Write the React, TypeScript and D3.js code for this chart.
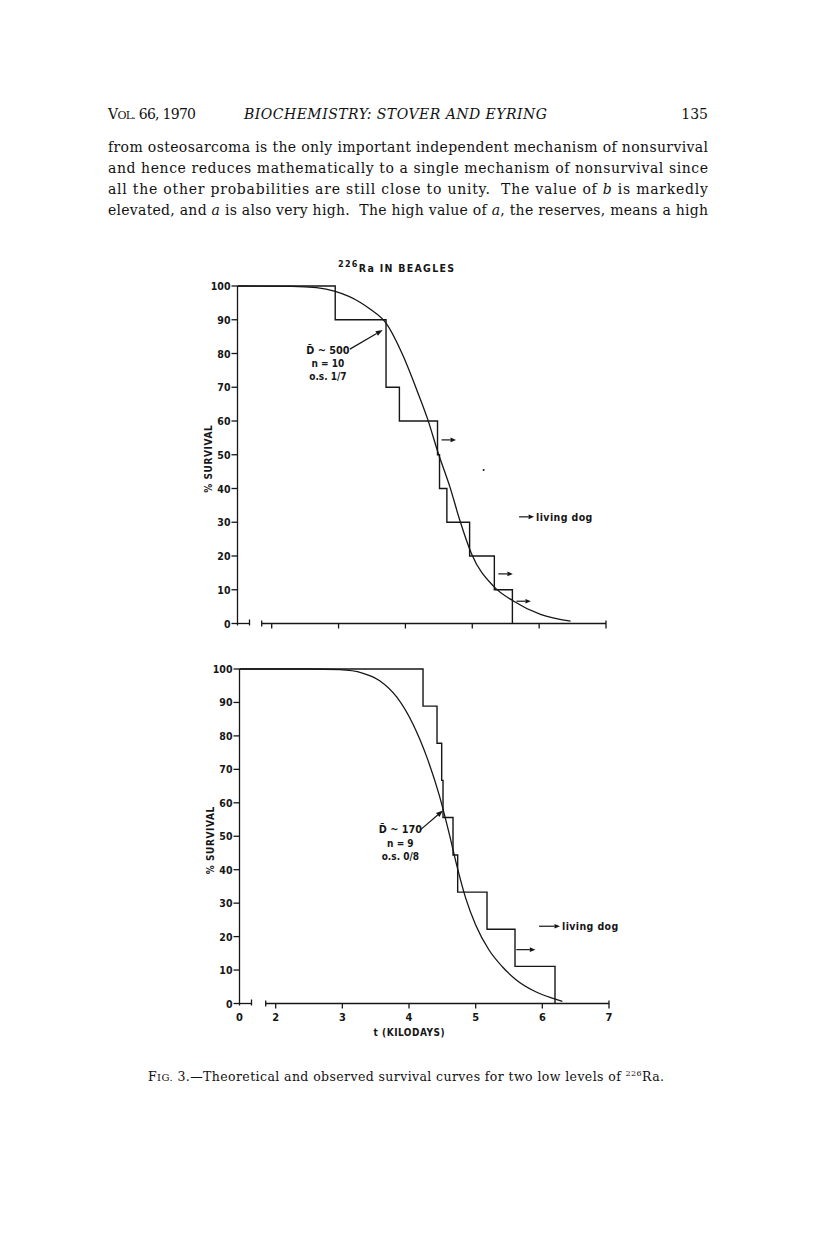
import React from "react";
import * as d3 from "d3";

// upper panel, D ~ 500, n = 10
const topStepTimes = [0, 2.95, 3.71, 3.91, 4.48, 4.51, 4.62, 4.96, 5.33, 5.6];
const topStepSurvival = [100, 90, 70, 60, 50, 40, 30, 20, 10, 0];
const topCurveTimes = [0, 2.3, 2.67, 2.95, 3.32, 3.47, 3.71, 3.97, 4.17, 4.33, 4.49, 4.67, 4.81, 4.99, 5.32, 5.62, 6.02, 6.47];
const topCurveSurvival = [100, 99.9, 99.5, 98.4, 95.2, 93.2, 89, 79.1, 69.2, 60.7, 50.5, 40.2, 30.8, 20.6, 11, 6.6, 2.7, 0.7];
const topLivingTimes = [4.54, 5.39, 5.66];
const topLivingSurvival = [54.4, 14.7, 6.6];
const topNote = ["D\u0304 ~ 500", "n = 10", "o.s. 1/7"];

// lower panel, D ~ 170, n = 9
const bottomStepTimes = [0, 4.21, 4.42, 4.49, 4.51, 4.66, 4.73, 5.17, 5.59, 6.19];
const bottomStepSurvival = [100, 88.9, 77.8, 66.7, 55.6, 44.4, 33.3, 22.2, 11.1, 0];
const bottomCurveTimes = [0, 2.5, 2.96, 3.3, 3.56, 3.82, 4.06, 4.27, 4.45, 4.6, 4.72, 4.85, 5.0, 5.2, 5.4, 5.6, 5.9, 6.16, 6.3];
const bottomCurveSurvival = [100, 100, 99.8, 98.8, 96.5, 91.5, 83.5, 73.5, 62.5, 51, 41, 31.5, 23.5, 16, 11, 7.2, 3.5, 1.5, 0.6];
const bottomLivingTimes = [5.61];
const bottomLivingSurvival = [16.1];
const bottomNote = ["D\u0304 ~ 170", "n = 9", "o.s. 0/8"];

const yTicks = [0, 10, 20, 30, 40, 50, 60, 70, 80, 90, 100];
const xTicks = [2, 3, 4, 5, 6, 7];
const xTickLabels = ["0", "2", "3", "4", "5", "6", "7"];

const paragraph = [
  "from osteosarcoma is the only important independent mechanism of nonsurvival",
  "and hence reduces mathematically to a single mechanism of nonsurvival since",
  "all the other probabilities are still close to unity.  The value of |b| is markedly",
  "elevated, and |a| is also very high.  The high value of |a|, the reserves, means a high",
];

const INK = "#161616";
const CHART_FONT = "'DejaVu Sans Condensed', 'DejaVu Sans', sans-serif";
const SERIF = "'DejaVu Serif', 'Liberation Serif', serif";

function Arrow({ x1, y1, x2, y2, head = 6, w = 2.3 }) {
  const a = Math.atan2(y2 - y1, x2 - x1);
  const bx = x2 - head * Math.cos(a);
  const by = y2 - head * Math.sin(a);
  const px = -Math.sin(a) * w;
  const py = Math.cos(a) * w;
  return (
    <g>
      <line x1={x1} y1={y1} x2={bx} y2={by} stroke={INK} strokeWidth={1.2} />
      <polygon points={`${x2},${y2} ${bx + px},${by + py} ${bx - px},${by - py}`} fill={INK} />
    </g>
  );
}

function Panel(props) {
  const { stepT, stepS, curveT, curveS, livingT, livingS, note, noteAt, noteArrow, legendAt,
    xr, yr, showXLabels, arrowLen, legendLen, speck } = props;

  // axis broken between 0 and 2 kilodays
  const x = d3.scaleLinear().domain([0, 2, 7]).range(xr);
  const y = d3.scaleLinear().domain([0, 100]).range(yr);
  const x0 = x(0);
  const yb = y(0);

  const steps = d3.line().curve(d3.curveStepAfter)(stepT.map((t, i) => [x(t), y(stepS[i])]));
  const curve = d3.line().curve(d3.curveMonotoneX)(curveT.map((t, i) => [x(t), y(curveS[i])]));

  const ax = { stroke: INK, strokeWidth: 1.3 };
  const txt = { fontFamily: CHART_FONT, fontWeight: 700, fill: INK, fontSize: 10.5 };

  return (
    <g>
      {/* y axis */}
      <line x1={x0} x2={x0} y1={y(100)} y2={yb + 2} {...ax} />
      {yTicks.map((v) => (
        <g key={v}>
          <line x1={x0 - 6} x2={x0} y1={y(v)} y2={y(v)} {...ax} />
          <text x={x0 - 7} y={y(v) + 4} textAnchor="end" {...txt}>{v}</text>
        </g>
      ))}
      <text transform={`translate(${x0 - 26},${(y(0) + y(100)) / 2 + 4}) rotate(-90)`} textAnchor="middle"
        {...txt} fontSize={10} letterSpacing={0.6}>% SURVIVAL</text>

      {/* x axis with break */}
      <line x1={x0} x2={x0 + 12} y1={yb} y2={yb} {...ax} />
      <line x1={x0 + 12} x2={x0 + 12} y1={yb - 4} y2={yb + 2} {...ax} />
      <line x1={x(2) - 10} x2={x(7)} y1={yb} y2={yb} {...ax} />
      <line x1={x(2) - 10} x2={x(2) - 10} y1={yb - 3} y2={yb + 3} {...ax} />
      {xTicks.map((t) => (
        <line key={t} x1={x(t)} x2={x(t)} y1={t === 7 ? yb - 3 : yb} y2={yb + 5} {...ax} />
      ))}
      {showXLabels && [0, ...xTicks].map((t, i) => (
        <text key={t} x={x(t)} y={yb + 17} textAnchor="middle" {...txt} fontSize={11}>{xTickLabels[i]}</text>
      ))}
      {showXLabels && (
        <text x={(x(4) + x(5)) / 2 - 33} y={yb + 32} textAnchor="middle" {...txt} fontSize={10} letterSpacing={0.5}>
          t (KILODAYS)
        </text>
      )}

      {/* observed survival */}
      <path d={steps} fill="none" stroke={INK} strokeWidth={1.4} />
      {/* theoretical survival */}
      <path d={curve} fill="none" stroke={INK} strokeWidth={1.3} />

      {livingT.map((t, i) => (
        <Arrow key={i} x1={x(t)} y1={y(livingS[i])} x2={x(t) + arrowLen} y2={y(livingS[i])} head={5.5} />
      ))}

      <Arrow x1={x(legendAt[0])} y1={y(legendAt[1])} x2={x(legendAt[0]) + legendLen} y2={y(legendAt[1])} head={5.5} />
      <text x={x(legendAt[0]) + legendLen + 2} y={y(legendAt[1]) + 4} {...txt} fontSize={10.5} letterSpacing={0.4}>living dog</text>

      {note.map((s, i) => (
        <text key={i} x={x(noteAt[0])} y={y(noteAt[1]) + 4 + i * 13.3} textAnchor="middle" {...txt}
          fontSize={i === 0 ? 10.8 : 10}>{s}</text>
      ))}
      <Arrow x1={x(noteArrow[0])} y1={y(noteArrow[1])} x2={x(noteArrow[2])} y2={y(noteArrow[3])} head={7} w={2.6} />

      {speck && <circle cx={x(speck[0])} cy={y(speck[1])} r={1} fill={INK} />}
    </g>
  );
}

function BodyLine({ s, yPos }) {
  const parts = s.split("|");
  return (
    <text x={108} y={yPos} textLength={600} lengthAdjust="spacing" fontFamily={SERIF} fontSize={14} fill="#111"
      style={{ whiteSpace: "pre" }}>
      {parts.map((p, i) => (
        <tspan key={i} fontStyle={i % 2 ? "italic" : "normal"}>{p}</tspan>
      ))}
    </text>
  );
}

export default function App() {
  return (
    <div style={{ position: "absolute", left: 0, top: 0 }}>
      <svg width={816} height={1251} style={{ display: "block", background: "#fff" }}>
        {/* running head */}
        <text x={108} y={119} fontFamily={SERIF} fontSize={14} fill="#111" textLength={88} lengthAdjust="spacing">
          V<tspan fontSize={11}>OL.</tspan> 66, 1970
        </text>
        <text x={244} y={119} fontFamily={SERIF} fontSize={14} fontStyle="italic" fill="#111" textLength={303}
          lengthAdjust="spacing">BIOCHEMISTRY: STOVER AND EYRING</text>
        <text x={708} y={119} fontFamily={SERIF} fontSize={14} fill="#111" textAnchor="end">135</text>

        {paragraph.map((s, i) => (
          <BodyLine key={i} s={s} yPos={152 + i * 21} />
        ))}

        {/* figure title */}
        <text x={338} y={272} fontFamily={CHART_FONT} fontWeight={700} fill={INK} fontSize={10.5} letterSpacing={1.3}>
          <tspan fontSize={9} dy={-5}>226</tspan>
          <tspan dy={5}>Ra IN BEAGLES</tspan>
        </text>

        <Panel
          stepT={topStepTimes} stepS={topStepSurvival}
          curveT={topCurveTimes} curveS={topCurveSurvival}
          livingT={topLivingTimes} livingS={topLivingSurvival}
          note={topNote} noteAt={[2.84, 81.1]} noteArrow={[3.17, 81.3, 3.66, 87.0]}
          legendAt={[5.7, 31.6]}
          xr={[237.5, 271.7, 606]} yr={[623.5, 286]}
          showXLabels={false} arrowLen={14.5} legendLen={15} speck={[5.17, 45.5]}
        />
        <Panel
          stepT={bottomStepTimes} stepS={bottomStepSurvival}
          curveT={bottomCurveTimes} curveS={bottomCurveSurvival}
          livingT={bottomLivingTimes} livingS={bottomLivingSurvival}
          note={bottomNote} noteAt={[3.87, 52.1]} noteArrow={[4.17, 51.9, 4.51, 57.7]}
          legendAt={[5.95, 23.1]}
          xr={[239.5, 275.7, 609]} yr={[1003.5, 669]}
          showXLabels={true} arrowLen={19} legendLen={21} speck={null}
        />

        {/* caption */}
        <text x={148} y={1081} fontFamily={SERIF} fontSize={12.5} fill="#111" textLength={516} lengthAdjust="spacing">
          F<tspan fontSize={10}>IG.</tspan> 3.—Theoretical and observed survival curves for two low levels of{" "}
          <tspan fontSize={8} dy={-5}>226</tspan>
          <tspan dy={5}>Ra.</tspan>
        </text>
      </svg>
    </div>
  );
}
